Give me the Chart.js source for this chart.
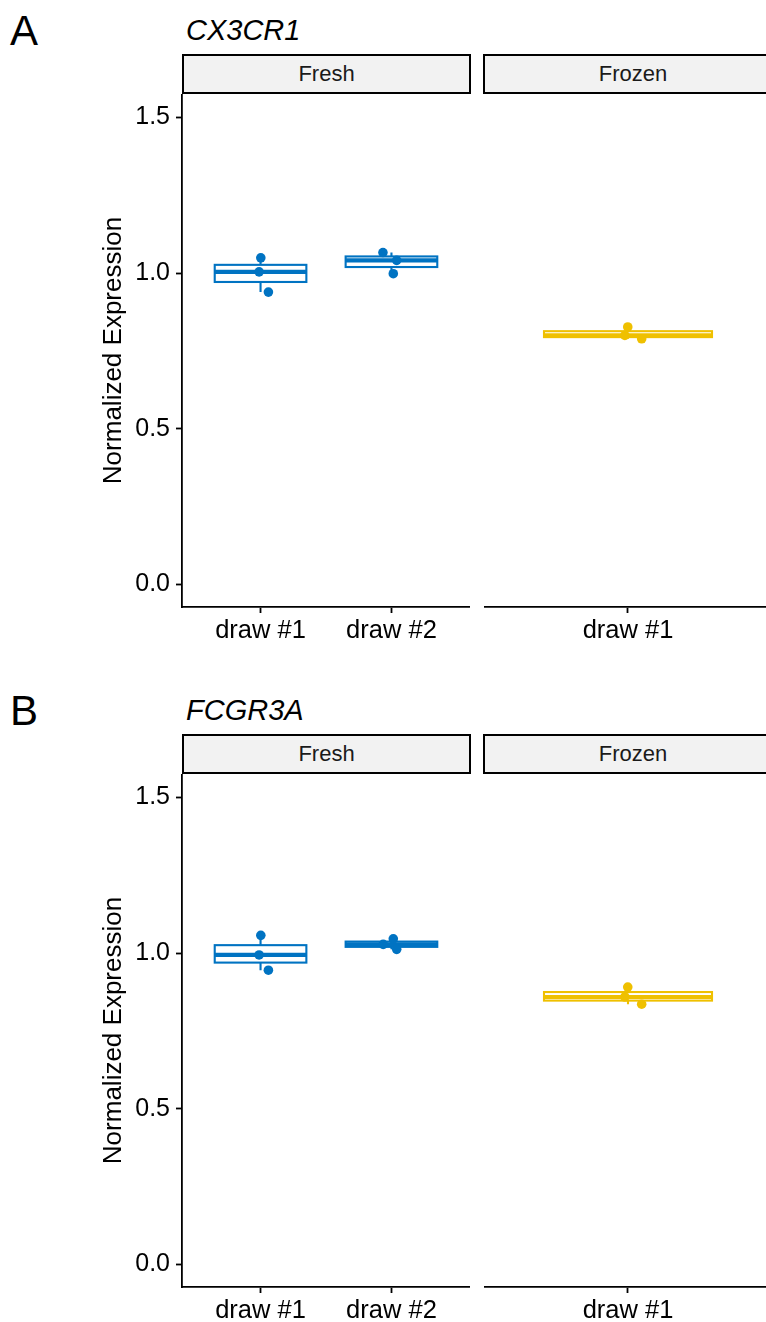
<!DOCTYPE html>
<html>
<head>
<meta charset="utf-8">
<script src="https://cdn.jsdelivr.net/npm/chart.js@4.4.1/dist/chart.umd.min.js"></script>
<style>
html,body{margin:0;padding:0;background:#fff;}
body{width:766px;height:1322px;overflow:hidden;position:relative;font-family:"Liberation Sans",Arial,Helvetica,sans-serif;}
canvas{position:absolute;}
.strip{position:absolute;box-sizing:border-box;border:2px solid #000;background:#F2F2F2;color:#1A1A1A;font-size:22px;display:flex;align-items:center;justify-content:center;}
.tag{position:absolute;font-size:42px;line-height:1;color:#000;}
.gene{position:absolute;font-style:italic;font-size:29px;line-height:1;color:#000;}
</style>
</head>
<body>
<script>
// ---------- data ----------
const panelTags = ['A', 'B'];
const genes = ['CX3CR1', 'FCGR3A'];
const facets = ['Fresh', 'Frozen'];
const freshCategories = ['draw #1', 'draw #2'];
const frozenCategories = ['draw #1'];
const yTicks = [0.0, 0.5, 1.0, 1.5];
const yTitle = 'Normalized Expression';

const cx3cr1FreshDraw1 = [1.049, 1.004, 0.939];
const cx3cr1FreshDraw2 = [1.066, 1.041, 0.998];
const cx3cr1FrozenDraw1 = [0.827, 0.800, 0.789];
const fcgr3aFreshDraw1 = [1.057, 0.994, 0.945];
const fcgr3aFreshDraw2 = [1.028, 1.046, 1.012];
const fcgr3aFrozenDraw1 = [0.891, 0.859, 0.836];

// horizontal jitter of each point (category units)
const cx3cr1FreshDraw1Jitter = [0.002, -0.011, 0.060];
const cx3cr1FreshDraw2Jitter = [-0.065, 0.040, 0.014];
const cx3cr1FrozenDraw1Jitter = [-0.001, -0.013, 0.057];
const fcgr3aFreshDraw1Jitter = [0.002, -0.011, 0.060];
const fcgr3aFreshDraw2Jitter = [-0.063, 0.014, 0.040];
const fcgr3aFrozenDraw1Jitter = [-0.001, -0.013, 0.057];

// ---------- style ----------
const FONT = '"Liberation Sans", Arial, Helvetica, sans-serif';
const COLORS = { Fresh: '#0073C2', Frozen: '#EFC000' };
const BOX_HALF = 0.35;

const figures = [
  { tag: panelTags[0], gene: genes[0], off: 0,
    fresh: [cx3cr1FreshDraw1, cx3cr1FreshDraw2], freshJ: [cx3cr1FreshDraw1Jitter, cx3cr1FreshDraw2Jitter],
    frozen: [cx3cr1FrozenDraw1], frozenJ: [cx3cr1FrozenDraw1Jitter] },
  { tag: panelTags[1], gene: genes[1], off: 680,
    fresh: [fcgr3aFreshDraw1, fcgr3aFreshDraw2], freshJ: [fcgr3aFreshDraw1Jitter, fcgr3aFreshDraw2Jitter],
    frozen: [fcgr3aFrozenDraw1], frozenJ: [fcgr3aFrozenDraw1Jitter] }
];

function quantile(s, p) {
  const h = (s.length - 1) * p, lo = Math.floor(h), hi = Math.ceil(h);
  return s[lo] + (h - lo) * (s[hi] - s[lo]);
}
function boxStats(vals) {
  const s = [...vals].sort((a, b) => a - b);
  const q1 = quantile(s, 0.25), med = quantile(s, 0.5), q3 = quantile(s, 0.75), iqr = q3 - q1;
  const lo = Math.min(...s.filter(v => v >= q1 - 1.5 * iqr));
  const hi = Math.max(...s.filter(v => v <= q3 + 1.5 * iqr));
  return { q1, med, q3, lo, hi };
}

const boxPlugin = {
  id: 'boxes',
  beforeDatasetsDraw(chart, args, opts) {
    const { ctx } = chart;
    const x = chart.scales.x, y = chart.scales.y;
    (opts.items || []).forEach(b => {
      const st = boxStats(b.values);
      const xl = x.getPixelForValue(b.pos - BOX_HALF);
      const xr = x.getPixelForValue(b.pos + BOX_HALF);
      const xc = x.getPixelForValue(b.pos);
      const yt = y.getPixelForValue(st.q3), yb = y.getPixelForValue(st.q1);
      ctx.save();
      ctx.strokeStyle = b.color;
      ctx.lineWidth = 2.1;
      ctx.beginPath();
      ctx.moveTo(xc, yt); ctx.lineTo(xc, y.getPixelForValue(st.hi));
      ctx.moveTo(xc, yb); ctx.lineTo(xc, y.getPixelForValue(st.lo));
      ctx.stroke();
      ctx.fillStyle = '#ffffff';
      ctx.fillRect(xl, yt, xr - xl, yb - yt);
      ctx.strokeRect(xl, yt, xr - xl, yb - yt);
      const ym = y.getPixelForValue(st.med);
      ctx.lineWidth = 4.2;
      ctx.beginPath(); ctx.moveTo(xl, ym); ctx.lineTo(xr, ym); ctx.stroke();
      ctx.restore();
    });
  }
};

function addDiv(cls, text, left, top, width, height) {
  const d = document.createElement('div');
  d.className = cls;
  d.textContent = text;
  d.style.left = left + 'px';
  d.style.top = top + 'px';
  if (width != null) d.style.width = width + 'px';
  if (height != null) d.style.height = height + 'px';
  document.body.appendChild(d);
  return d;
}

function zeroPad(s) { s.paddingTop = 0; s.paddingBottom = 0; s.paddingLeft = 0; s.paddingRight = 0; }

function makeChart(left, top, width, height, cats, groups, jitters, color, showY) {
  const cv = document.createElement('canvas');
  cv.width = width; cv.height = height;
  cv.style.left = left + 'px'; cv.style.top = top + 'px';
  cv.style.width = width + 'px'; cv.style.height = height + 'px';
  document.body.appendChild(cv);

  const datasets = groups.map((vals, i) => ({
    type: 'scatter',
    data: vals.map((v, k) => ({ x: i + 1 + jitters[i][k], y: v })),
    backgroundColor: color,
    borderWidth: 0,
    pointRadius: 4.8,
    pointHoverRadius: 4.8
  }));
  const items = groups.map((vals, i) => ({ values: vals, pos: i + 1, color }));

  return new Chart(cv, {
    type: 'scatter',
    data: { datasets },
    options: {
      responsive: false,
      animation: false,
      devicePixelRatio: 1,
      layout: { padding: 0, autoPadding: false },
      plugins: { legend: { display: false }, tooltip: { enabled: false }, boxes: { items } },
      scales: {
        x: {
          type: 'linear', min: 0.4, max: cats.length + 0.6,
          afterBuildTicks: s => { s.ticks = cats.map((c, i) => ({ value: i + 1 })); },
          afterFit: s => { s.height = 45; zeroPad(s); },
          ticks: {
            callback: v => cats[Math.round(v) - 1],
            font: { family: FONT, size: 25.5 }, color: '#000', padding: 3,
            maxRotation: 0, autoSkip: false
          },
          grid: { drawOnChartArea: false, drawTicks: true, tickLength: 6, tickWidth: 1.8, tickColor: '#000' },
          border: { display: true, color: '#000', width: 1.8 }
        },
        y: {
          type: 'linear', min: -0.072, max: 1.575, display: showY,
          afterBuildTicks: s => { s.ticks = yTicks.map(v => ({ value: v })); },
          afterFit: s => { s.width = showY ? 182 : 0; zeroPad(s); },
          ticks: {
            callback: v => Number(v).toFixed(1),
            font: { family: FONT, size: 25 }, color: '#000', padding: 6
          },
          grid: { drawOnChartArea: false, drawTicks: true, tickLength: 6, tickWidth: 1.8, tickColor: '#000' },
          border: { display: true, color: '#000', width: 1.8 },
          title: {
            display: showY, text: yTitle, color: '#000',
            font: { family: FONT, size: 26 }, padding: { top: 98, bottom: 0 }
          }
        }
      }
    },
    plugins: [boxPlugin]
  });
}

figures.forEach(f => {
  const o = f.off;
  addDiv('tag', f.tag, 10, 10 + o);
  addDiv('gene', f.gene, 186, 16 + o);
  addDiv('strip', facets[0], 182, 54 + o, 289, 40);
  addDiv('strip', facets[1], 483, 54 + o, 300, 40);
  makeChart(0, 94 + o, 470, 558, freshCategories, f.fresh, f.freshJ, COLORS[facets[0]], true);
  makeChart(484, 94 + o, 288, 558, frozenCategories, f.frozen, f.frozenJ, COLORS[facets[1]], false);
});
</script>
</body>
</html>
